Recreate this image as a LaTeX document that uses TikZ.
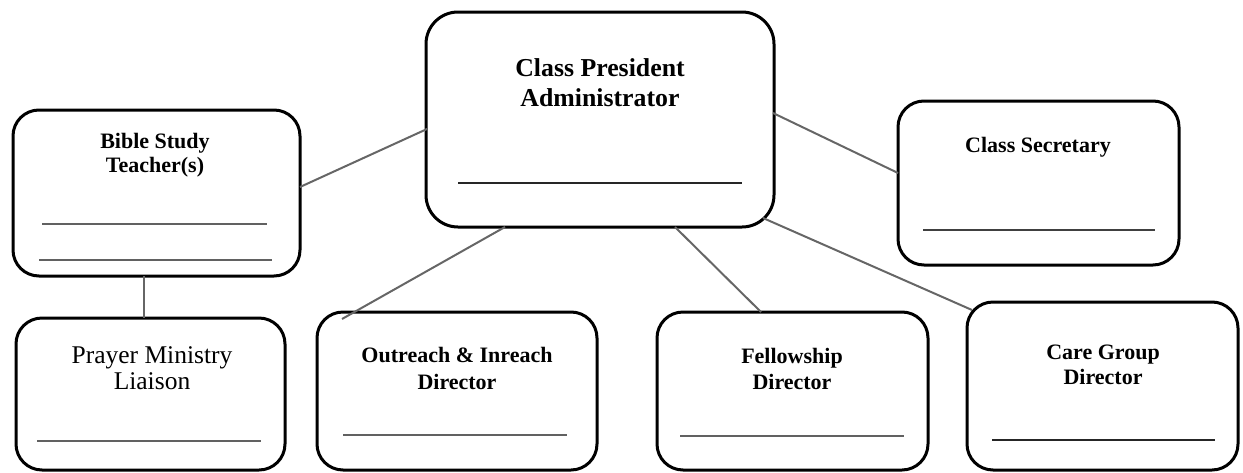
\documentclass[tikz,border=0pt]{standalone}
\usepackage{fontspec}
\setmainfont{Liberation Serif}
\begin{document}
\begin{tikzpicture}[x=1pt,y=-1pt,
  box/.style={draw=black, line width=3pt, rounded corners=26pt, fill=none, inner sep=0pt},
  conn/.style={draw=black!60, line width=2pt},
  uline/.style={draw=black!62, line width=2pt},
  dline/.style={draw=black!85, line width=2.6pt},
  btxt/.style={align=center, inner sep=0pt, font=\bfseries\fontsize{22}{24.5}\selectfont},
]
\useasboundingbox (0,0) rectangle (1243,472);
% boxes
\node[box, rounded corners=32pt, minimum width=348pt, minimum height=215pt] (pres) at (600,119.5) {};
\node[box, minimum width=287pt, minimum height=166pt] (bible) at (156.5,193) {};
\node[box, minimum width=281pt, minimum height=164pt] (sec) at (1038.5,183) {};
\node[box, minimum width=269pt, minimum height=152pt] (prayer) at (150.5,394) {};
\node[box, minimum width=280pt, minimum height=158pt] (out) at (457,391) {};
\node[box, minimum width=271pt, minimum height=158pt] (fel) at (792.5,391) {};
\node[box, minimum width=271pt, minimum height=168pt] (care) at (1102.5,386) {};
% texts
\node[btxt, font=\bfseries\fontsize{25.8}{30}\selectfont] (tpres) at (600,83) {Class President\\Administrator};
\node[btxt] (tbible) at (155,155) {Bible Study\\Teacher(s)};
\node[btxt] (tsec) at (1038,147) {Class Secretary};
\node[align=center, inner sep=0pt, font=\fontsize{25.5}{26}\selectfont] (tprayer) at (152,368) {Prayer Ministry\\Liaison};
\node[btxt, font=\bfseries\fontsize{22}{27}\selectfont] (tout) at (457,368.5) {Outreach \& Inreach\\Director};
\node[btxt, font=\bfseries\fontsize{22}{26}\selectfont] (tfel) at (792,369) {Fellowship\\Director};
\node[btxt] (tcare) at (1103,365) {Care Group\\Director};
% underlines
\draw[dline] (458,183) -- (742,183);
\draw[uline] (42,224) -- (267,224);
\draw[uline] (39,260) -- (272,260);
\draw[dline, draw=black!75] (923,230) -- (1155,230);
\draw[uline] (37,441) -- (261,441);
\draw[uline] (343,435) -- (567,435);
\draw[uline] (680,436) -- (904,436);
\draw[dline] (992,440) -- (1215,440);
% connector end points
\coordinate (pL) at (427,129);
\coordinate (bR) at (300,187);
\coordinate (pR) at (773,113);
\coordinate (sL) at (898,173);
\coordinate (bB) at (144,276);
\coordinate (prT) at (144,318);
\coordinate (pB1) at (505,227);
\coordinate (oT) at (342,319);
\coordinate (pB2) at (675,227);
\coordinate (fT) at (761,312);
\coordinate (pB3) at (763,218);
\coordinate (cT) at (972,310);
% connectors
\draw[conn] (bR) -- (pL);
\draw[conn] (pR) -- (sL);
\draw[conn] (bB) -- (prT);
\draw[conn] (pB1) -- (oT);
\draw[conn] (pB2) -- (fT);
\draw[conn] (pB3) -- (cT);
\end{tikzpicture}
\end{document}
